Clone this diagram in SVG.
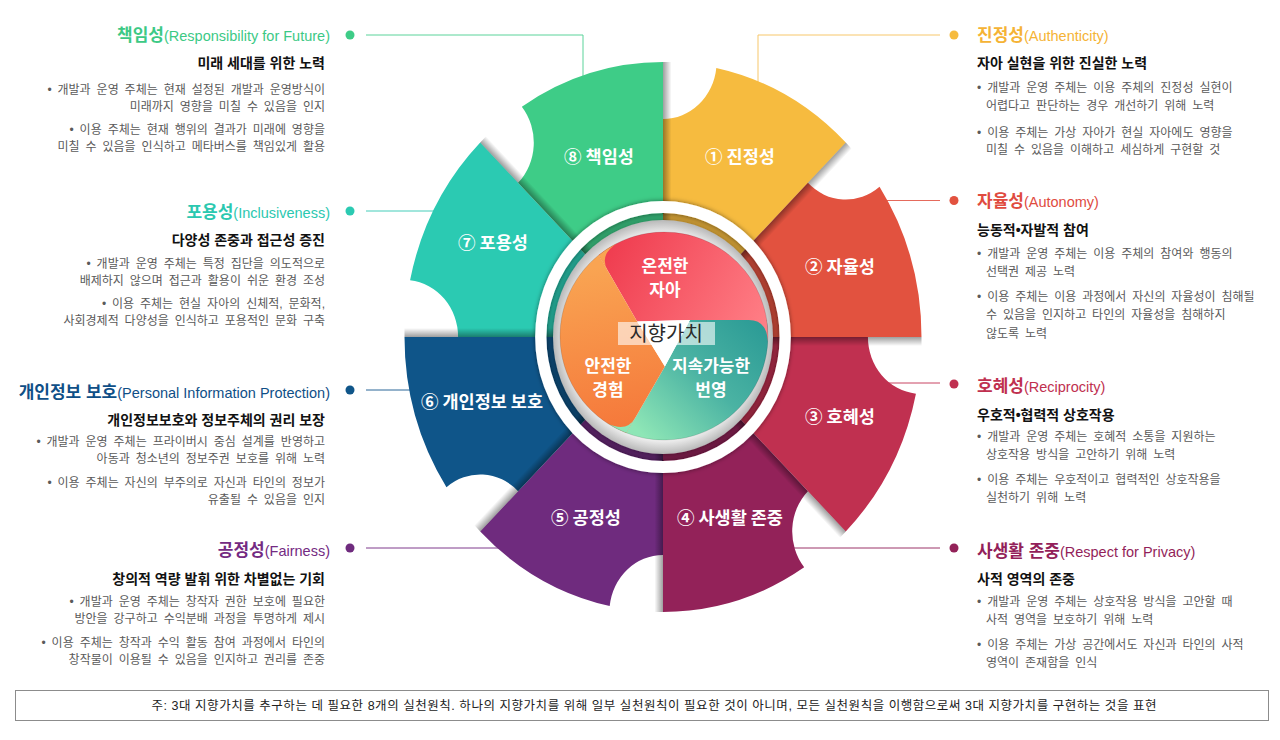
<svg xmlns="http://www.w3.org/2000/svg" width="1280" height="740" viewBox="0 0 1280 740">
<style>
text{font-family:"Liberation Sans","Noto Sans CJK KR",sans-serif}
.ttl{font-size:17px;font-weight:bold}
.en{font-size:14.5px;font-weight:normal}
.sub{font-size:14px;font-weight:bold;fill:#111}
.body{font-size:12px;fill:#5a5a5a;word-spacing:2.6px}
.end{text-anchor:end}
.seg{font-family:"Noto Sans CJK KR",sans-serif;font-size:17.5px;font-weight:bold;fill:#fff;text-anchor:middle}
.ctr{font-family:"Noto Sans CJK KR",sans-serif;font-size:17px;font-weight:bold;fill:#fff;text-anchor:middle}
.conn{fill:none;stroke-width:1}
</style>
<defs>
<path id="wedge" d="M0,0 L0,-218 A57,57 0 0 0 56.70,-269.09 A275,275 0 0 1 194.45,-194.45 Z"/>
<linearGradient id="edgeSh" x1="0" y1="0" x2="1" y2="0">
<stop offset="0" stop-color="#000" stop-opacity="0.38"/>
<stop offset="1" stop-color="#000" stop-opacity="0"/>
</linearGradient>
<filter id="ringSh" x="-20%" y="-20%" width="140%" height="140%">
<feDropShadow dx="0" dy="0" stdDeviation="2.5" flood-color="#000" flood-opacity="0.5"/>
</filter>
<filter id="discSh" x="-20%" y="-20%" width="140%" height="140%">
<feDropShadow dx="0" dy="1" stdDeviation="2" flood-color="#000" flood-opacity="0.35"/>
</filter>
<radialGradient id="bevel" cx="0.5" cy="0.5" r="0.5">
<stop offset="0.85" stop-color="#ffffff"/>
<stop offset="1" stop-color="#b8b8b8"/>
</radialGradient>
<linearGradient id="gRed" gradientUnits="userSpaceOnUse" x1="-60" y1="-90" x2="100" y2="-5">
<stop offset="0" stop-color="#ef3b4e"/>
<stop offset="1" stop-color="#ff7f86"/>
</linearGradient>
<linearGradient id="gTeal" gradientUnits="userSpaceOnUse" x1="95" y1="-20" x2="-20" y2="100">
<stop offset="0" stop-color="#2a9a95"/>
<stop offset="0.5" stop-color="#4bb3a3"/>
<stop offset="1" stop-color="#8ee6b6"/>
</linearGradient>
<linearGradient id="gOrange" gradientUnits="userSpaceOnUse" x1="-60" y1="-70" x2="-30" y2="95">
<stop offset="0" stop-color="#f9a452"/>
<stop offset="1" stop-color="#f5773a"/>
</linearGradient>
</defs>
<rect width="1280" height="740" fill="#fff"/>

<g id="connectors">
<path class="conn" stroke="#5ad39a" d="M366,35 H583 V95"/>
<path class="conn" stroke="#45cdb9" d="M366,211 H445"/>
<path class="conn" stroke="#2a6798" d="M366,390 H425"/>
<path class="conn" stroke="#7e3a8c" d="M366,548 H510"/>
<path class="conn" stroke="#f7c76a" d="M940,35 H758 V100"/>
<path class="conn" stroke="#e56a5c" d="M940,200.5 H875"/>
<path class="conn" stroke="#c84562" d="M940,383 H880"/>
<path class="conn" stroke="#9b3468" d="M940,548 H780"/>
<circle cx="350" cy="35" r="4.5" fill="#3ecc87"/>
<circle cx="350" cy="211" r="4.5" fill="#2bcab2"/>
<circle cx="350" cy="390" r="4.5" fill="#0f5589"/>
<circle cx="350" cy="548" r="4.5" fill="#6f2b7e"/>
<circle cx="954" cy="35" r="4.5" fill="#f6bb3f"/>
<circle cx="954" cy="200.5" r="4.5" fill="#e2523f"/>
<circle cx="954" cy="384" r="4.5" fill="#c03050"/>
<circle cx="954" cy="548" r="4.5" fill="#932259"/>
</g>

<g id="seg-authenticity">
<use href="#wedge" fill="#f6bb3f" transform="translate(663 337) scale(0.94 1) rotate(0)"/>
<text class="seg" x="740" y="163">① 진정성</text>
</g>
<g id="seg-autonomy">
<use href="#wedge" fill="#e2523f" transform="translate(663 337) scale(0.94 1) rotate(45)"/>
<text class="seg" x="840" y="273">② 자율성</text>
</g>
<g id="seg-reciprocity">
<use href="#wedge" fill="#c03050" transform="translate(663 337) scale(0.94 1) rotate(90)"/>
<text class="seg" x="840" y="423">③ 호혜성</text>
</g>
<g id="seg-privacy">
<use href="#wedge" fill="#932259" transform="translate(663 337) scale(0.94 1) rotate(135)"/>
<text class="seg" x="730" y="524">④ 사생활 존중</text>
</g>
<g id="seg-fairness">
<use href="#wedge" fill="#6f2b7e" transform="translate(663 337) scale(0.94 1) rotate(180)"/>
<text class="seg" x="586" y="524">⑤ 공정성</text>
</g>
<g id="seg-personal-info">
<use href="#wedge" fill="#0f5589" transform="translate(663 337) scale(0.94 1) rotate(225)"/>
<text class="seg" x="482" y="408">⑥ 개인정보 보호</text>
</g>
<g id="seg-inclusiveness">
<use href="#wedge" fill="#2bcab2" transform="translate(663 337) scale(0.94 1) rotate(270)"/>
<text class="seg" x="493" y="249">⑦ 포용성</text>
</g>
<g id="seg-responsibility">
<use href="#wedge" fill="#3ecc87" transform="translate(663 337) scale(0.94 1) rotate(315)"/>
<text class="seg" x="599" y="163">⑧ 책임성</text>
</g>

<g id="wheel-shading" transform="translate(663 337) scale(0.94 1)">
<rect x="0" y="-275" width="9" height="275" fill="url(#edgeSh)" transform="rotate(45)"/>
<rect x="0" y="-275" width="9" height="275" fill="url(#edgeSh)" transform="rotate(90)"/>
<rect x="0" y="-275" width="9" height="275" fill="url(#edgeSh)" transform="rotate(135)"/>
<rect x="0" y="-275" width="9" height="275" fill="url(#edgeSh)" transform="rotate(180)"/>
<rect x="0" y="-275" width="9" height="275" fill="url(#edgeSh)" transform="rotate(225)"/>
<rect x="0" y="-275" width="9" height="275" fill="url(#edgeSh)" transform="rotate(270)"/>
<rect x="0" y="-275" width="9" height="275" fill="url(#edgeSh)" transform="rotate(315)"/>
<rect x="0" y="-275" width="9" height="275" fill="url(#edgeSh)" transform="rotate(360)"/>
<circle r="124" fill="#000" fill-opacity="0.2"/>
<circle r="130" fill="none" stroke="#fff" stroke-width="12" filter="url(#ringSh)"/>
<circle r="117" fill="url(#bevel)" filter="url(#discSh)"/>
</g>

<g id="core-values" transform="translate(664 336)">
<path d="M-26.86,-14.5 L-65.25,-80.98 A104,104 0 0 1 102.76,-16 L26,-16 Z" fill="url(#gRed)"/>
<path d="M26,-16 L102.76,-16 A104,104 0 0 1 -37.52,96.99 L0.86,30.52 Z" fill="url(#gTeal)"/>
<path d="M0.86,30.52 L-37.52,96.99 A104,104 0 0 1 -65.25,-80.98 L-26.86,-14.5 Z" fill="url(#gOrange)"/>
<path d="M-56.26,-65.4 L-65.25,-80.98 A104,104 0 0 1 -47.05,-92.75 Q-65.25,-80.98 -56.26,-65.4 Z" fill="url(#gOrange)"/>
<path d="M84.77,-16.02 L102.76,-16 A104,104 0 0 1 103.85,5.63 Q102.76,-16 84.77,-16.02 Z" fill="url(#gRed)"/>
<path d="M-28.51,81.42 L-37.52,96.99 A104,104 0 0 1 -56.79,87.13 Q-37.52,96.99 -28.51,81.42 Z" fill="url(#gTeal)"/>
<path d="M-26.86,-14.5 L26,-16 L0.86,30.52 Z" fill="#fff"/>
<circle r="104" fill="none" stroke="#000" stroke-opacity="0.12" stroke-width="1"/>
<rect x="-46" y="-14" width="97" height="23" fill="#fff" fill-opacity="0.6"/>
<text x="2" y="5" style="font-family:'Noto Sans CJK KR',sans-serif;font-size:20px;fill:#2a2a2a;text-anchor:middle">지향가치</text>
</g>
<g id="center-labels">
<text class="ctr" x="665" y="272">온전한</text>
<text class="ctr" x="665" y="296">자아</text>
<text class="ctr" x="608" y="372">안전한</text>
<text class="ctr" x="608" y="396">경험</text>
<text class="ctr" x="711" y="372">지속가능한</text>
<text class="ctr" x="711" y="396">번영</text>
</g>

<g id="desc-responsibility">
<text class="end" x="330" y="41" fill="#3cc985"><tspan class="ttl">책임성</tspan><tspan class="en">(Responsibility for Future)</tspan></text>
<text class="sub end" x="325" y="68">미래 세대를 위한 노력</text>
<text class="body end" x="325" y="94">• 개발과 운영 주체는 현재 설정된 개발과 운영방식이</text>
<text class="body end" x="325" y="111">미래까지 영향을 미칠 수 있음을 인지</text>
<text class="body end" x="325" y="134">• 이용 주체는 현재 행위의 결과가 미래에 영향을</text>
<text class="body end" x="325" y="151">미칠 수 있음을 인식하고 메타버스를 책임있게 활용</text>
</g>
<g id="desc-inclusiveness">
<text class="end" x="330" y="218" fill="#2bc8b0"><tspan class="ttl">포용성</tspan><tspan class="en">(Inclusiveness)</tspan></text>
<text class="sub end" x="325" y="245">다양성 존중과 접근성 증진</text>
<text class="body end" x="325" y="268">• 개발과 운영 주체는 특정 집단을 의도적으로</text>
<text class="body end" x="325" y="285">배제하지 않으며 접근과 활용이 쉬운 환경 조성</text>
<text class="body end" x="325" y="308">• 이용 주체는 현실 자아의 신체적, 문화적,</text>
<text class="body end" x="325" y="325">사회경제적 다양성을 인식하고 포용적인 문화 구축</text>
</g>
<g id="desc-personal-info">
<text class="end" x="330" y="398" fill="#0f4f87"><tspan class="ttl">개인정보 보호</tspan><tspan class="en">(Personal Information Protection)</tspan></text>
<text class="sub end" x="325" y="425">개인정보보호와 정보주체의 권리 보장</text>
<text class="body end" x="325" y="446">• 개발과 운영 주체는 프라이버시 중심 설계를 반영하고</text>
<text class="body end" x="325" y="463">아동과 청소년의 정보주권 보호를 위해 노력</text>
<text class="body end" x="325" y="487">• 이용 주체는 자신의 부주의로 자신과 타인의 정보가</text>
<text class="body end" x="325" y="504">유출될 수 있음을 인지</text>
</g>
<g id="desc-fairness">
<text class="end" x="330" y="556" fill="#742a82"><tspan class="ttl">공정성</tspan><tspan class="en">(Fairness)</tspan></text>
<text class="sub end" x="325" y="584">창의적 역량 발휘 위한 차별없는 기회</text>
<text class="body end" x="325" y="606">• 개발과 운영 주체는 창작자 권한 보호에 필요한</text>
<text class="body end" x="325" y="623">방안을 강구하고 수익분배 과정을 투명하게 제시</text>
<text class="body end" x="325" y="647">• 이용 주체는 창작과 수익 활동 참여 과정에서 타인의</text>
<text class="body end" x="325" y="664">창작물이 이용될 수 있음을 인지하고 권리를 존중</text>
</g>

<g id="desc-authenticity">
<text x="977" y="41" fill="#f5b335"><tspan class="ttl">진정성</tspan><tspan class="en">(Authenticity)</tspan></text>
<text class="sub" x="977" y="68">자아 실현을 위한 진실한 노력</text>
<text class="body" x="977" y="92">• 개발과 운영 주체는 이용 주체의 진정성 실현이</text>
<text class="body" x="986" y="110">어렵다고 판단하는 경우 개선하기 위해 노력</text>
<text class="body" x="977" y="137">• 이용 주체는 가상 자아가 현실 자아에도 영향을</text>
<text class="body" x="986" y="154">미칠 수 있음을 이해하고 세심하게 구현할 것</text>
</g>
<g id="desc-autonomy">
<text x="977" y="207" fill="#e04b3f"><tspan class="ttl">자율성</tspan><tspan class="en">(Autonomy)</tspan></text>
<text class="sub" x="977" y="235">능동적•자발적 참여</text>
<text class="body" x="977" y="258">• 개발과 운영 주체는 이용 주체의 참여와 행동의</text>
<text class="body" x="986" y="276">선택권 제공 노력</text>
<text class="body" x="977" y="301">• 이용 주체는 이용 과정에서 자신의 자율성이 침해될</text>
<text class="body" x="986" y="319">수 있음을 인지하고 타인의 자율성을 침해하지</text>
<text class="body" x="986" y="338">않도록 노력</text>
</g>
<g id="desc-reciprocity">
<text x="977" y="392" fill="#c0304f"><tspan class="ttl">호혜성</tspan><tspan class="en">(Reciprocity)</tspan></text>
<text class="sub" x="977" y="420">우호적•협력적 상호작용</text>
<text class="body" x="977" y="441">• 개발과 운영 주체는 호혜적 소통을 지원하는</text>
<text class="body" x="986" y="459">상호작용 방식을 고안하기 위해 노력</text>
<text class="body" x="977" y="484">• 이용 주체는 우호적이고 협력적인 상호작용을</text>
<text class="body" x="986" y="502">실천하기 위해 노력</text>
</g>
<g id="desc-privacy">
<text x="977" y="557" fill="#931f5a"><tspan class="ttl">사생활 존중</tspan><tspan class="en">(Respect for Privacy)</tspan></text>
<text class="sub" x="977" y="584">사적 영역의 존중</text>
<text class="body" x="977" y="606">• 개발과 운영 주체는 상호작용 방식을 고안할 때</text>
<text class="body" x="986" y="624">사적 영역을 보호하기 위해 노력</text>
<text class="body" x="977" y="649">• 이용 주체는 가상 공간에서도 자신과 타인의 사적</text>
<text class="body" x="986" y="667">영역이 존재함을 인식</text>
</g>

<g id="note">
<rect x="15.5" y="690.5" width="1253" height="30" fill="#fff" stroke="#8c8c8c" stroke-width="1"/>
<text x="654" y="710" textLength="1005" style="font-size:12.5px;fill:#222;text-anchor:middle">주: 3대 지향가치를 추구하는 데 필요한 8개의 실천원칙. 하나의 지향가치를 위해 일부 실천원칙이 필요한 것이 아니며, 모든 실천원칙을 이행함으로써 3대 지향가치를 구현하는 것을 표현</text>
</g>
</svg>
